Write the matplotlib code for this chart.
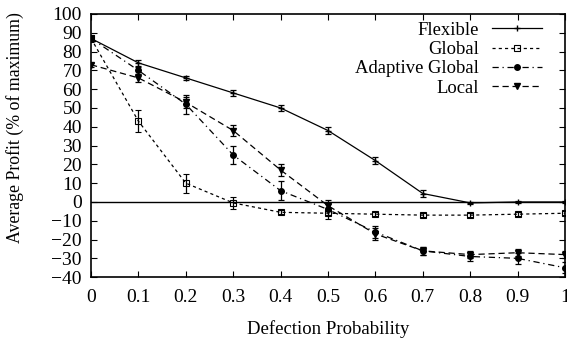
import matplotlib
matplotlib.use("Agg")
import matplotlib.pyplot as plt

plt.rcParams['font.family'] = ['Liberation Serif', 'DejaVu Serif']

x = [0, 0.1, 0.2, 0.3, 0.4, 0.5, 0.6, 0.7, 0.8, 0.9, 1.0]

flexible = [87, 74, 66, 58, 50, 38, 22, 4.5, -0.5, 0, 0]
flexible_err = [1.5, 1.5, 1.2, 1.5, 1.5, 1.8, 2, 2, 0.5, 0.3, 0.3]

global_ = [87, 43, 10, -0.5, -5.5, -6, -6.5, -7, -7, -6.5, -6]
global_err = [2, 6, 5, 3, 1, 3, 1, 1, 1, 1, 1]

adaptive = [87, 70, 52, 25, 6, -4, -16, -26, -29, -30, -35]
adaptive_err = [1.5, 2, 5, 5, 5, 3, 3, 2, 2.5, 3, 3]

local = [73, 66, 53, 38, 17, -2, -17, -26, -28, -27, -28]
local_err = [1, 2, 3, 3, 3, 3, 3, 2, 2, 2, 2]

fig = plt.figure(figsize=(5.67, 3.38), dpi=100)
ax = fig.add_axes([0.1605, 0.180, 0.8360, 0.7786])

eb = dict(color='black', lw=0.9, capsize=2.5, elinewidth=0.9, capthick=0.9)
c1 = ax.errorbar(x, flexible, yerr=flexible_err, marker='+', ms=5, ls='-', **eb)
c2 = ax.errorbar(x, global_, yerr=global_err, marker='s', ms=4, mfc='none',
                 mew=0.8, ls=(0, (2.5, 2.5)), **eb)
c3 = ax.errorbar(x, adaptive, yerr=adaptive_err, marker='o', ms=4,
                 ls=(0, (5, 3, 1, 3)), **eb)
c4 = ax.errorbar(x, local, yerr=local_err, marker='v', ms=4.5, ls=(0, (5, 3)), **eb)

ax.axhline(0, color='black', lw=1)

ax.set_xlim(0, 1)
ax.set_ylim(-40, 100)
ax.set_xticks(x)
ax.set_xticklabels(['0', '0.1', '0.2', '0.3', '0.4', '0.5', '0.6', '0.7', '0.8', '0.9', '1'])
ax.set_yticks(range(-40, 101, 10))
ax.tick_params(direction='in', top=True, right=True, labelsize=14, length=4)
ax.tick_params(axis='y', pad=6.5)
ax.tick_params(axis='x', pad=8.5)
for s in ax.spines.values():
    s.set_linewidth(1.2)

ax.set_xlabel('Defection Probability', fontsize=13.5, labelpad=10)
ax.set_ylabel('Average Profit (% of maximum)', fontsize=12.8)
ax.yaxis.set_label_coords(-0.142, 0.57)

ax.legend([c1.lines[0], c2.lines[0], c3.lines[0], c4.lines[0]],
          ['Flexible', 'Global', 'Adaptive Global', 'Local'],
          loc='upper right', bbox_to_anchor=(0.951, 0.970), frameon=False,
          markerfirst=False, fontsize=13.4, handlelength=2.69,
          labelspacing=0.12, borderaxespad=0, borderpad=0, handletextpad=0.7)

fig.savefig('out.png', dpi=100)
